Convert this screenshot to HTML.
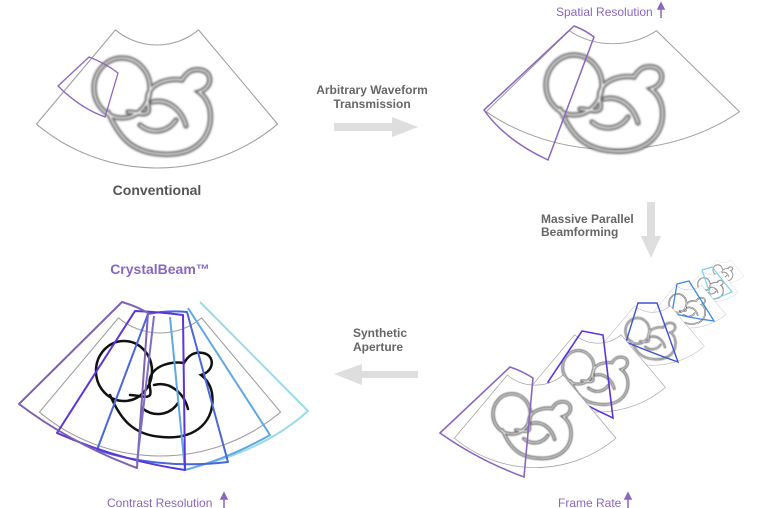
<!DOCTYPE html>
<html><head><meta charset="utf-8"><style>
html,body{margin:0;padding:0;background:#fff;}
svg{display:block;}
text{font-family:"Liberation Sans",sans-serif;}
</style></head><body>
<svg width="768" height="508" viewBox="0 0 768 508" xmlns="http://www.w3.org/2000/svg">
<defs>
<filter id="bl" x="-20%" y="-20%" width="140%" height="140%"><feGaussianBlur stdDeviation="1.1"/></filter>
<path id="fan" d="M115.5,29.9 A64.6,64.6 0 0 0 198.5,29.9 L277.6,124.1 A187.6,187.6 0 0 1 36.4,124.1 Z" fill="#fff" stroke="#a0a0a0" stroke-width="1.1" stroke-linejoin="round"/>
<g id="fet" fill="none" stroke-linecap="round">
<ellipse cx="122" cy="88" rx="28" ry="30"/>
<path d="M108,112 C118,135 130,152 160,154 C195,157 214,137 210,110 C208,100 203,95 199,92 C213,88 213,72 201,70 C190,68 185,75 182,80 C170,78 152,82 148,95 C146,103 150,108 148,112 C145,116 135,112 128,112"/>
<path d="M152,102 C168,98 182,110 186,126"/>
<path d="M140,125 C152,135 168,132 176,120"/>
</g>
<g id="bfet"><use href="#fet" stroke="#555" stroke-width="5" filter="url(#bl)"/><use href="#fet" stroke="#fff" stroke-width="1.8" filter="url(#bl)"/></g>
</defs>

<!-- Conventional -->
<use href="#fan"/>
<use href="#bfet"/>
<path d="M58,86 L89,57 Q105,63 118,73 L105,117 Q80,108 58,86 Z" fill="none" stroke="#8a66c0" stroke-width="1.3"/>
<text x="157" y="195" font-size="14" font-weight="bold" fill="#555" text-anchor="middle">Conventional</text>

<!-- Arrow 1 -->
<path d="M334,123 H392 V117 L418,127 L392,137 V131 H334 Z" fill="#dedede"/>
<text x="372" y="94" font-size="12" font-weight="bold" fill="#666" text-anchor="middle">Arbitrary Waveform</text>
<text x="372" y="108" font-size="12" font-weight="bold" fill="#666" text-anchor="middle">Transmission</text>

<!-- Top right -->
<g transform="translate(448,5) scale(1.05,0.86)"><use href="#fan"/></g>
<g transform="translate(452,-3)"><use href="#bfet"/></g>
<path d="M574,26 Q585,30 594,37 L548,160 Q505,140 484,110 Z" fill="none" stroke="#8a66c0" stroke-width="1.5"/>
<text x="556" y="16" font-size="12" fill="#8a66c0">Spatial Resolution</text>
<path d="M661,18 V5 M658,9 L661,3 L664,9 Z" stroke="#8a66c0" stroke-width="1.5" fill="#8a66c0"/>

<!-- Arrow 2 -->
<path d="M647,202 H655 V236 H661 L651,258 L641,236 H647 Z" fill="#dedede"/>
<text x="541" y="223" font-size="12" font-weight="bold" fill="#666">Massive Parallel</text>
<text x="541" y="236" font-size="12" font-weight="bold" fill="#666">Beamforming</text>

<!-- Stack frames -->
<g transform="translate(697,255) scale(0.17)"><use href="#fan"/><use href="#bfet"/></g>
<g transform="translate(677,265) scale(0.22)"><use href="#fan"/><use href="#bfet"/></g>
<path d="M702,270 L712,267 L732,292 L712,300 Z" fill="none" stroke="#7fd0e6" stroke-width="1.2"/>
<g transform="translate(640,276) scale(0.31)"><use href="#fan"/><use href="#bfet"/></g>
<path d="M677,284 L689,281 L714,321 Q690,318 672,313 Z" fill="none" stroke="#3f86dc" stroke-width="1.3"/>
<g transform="translate(585,293) scale(0.43)"><use href="#fan"/><use href="#bfet"/></g>
<path d="M638,303 L657,303 L678,362 Q650,352 626,342 Z" fill="none" stroke="#3d52d8" stroke-width="1.4"/>
<g transform="translate(510,318) scale(0.56)"><use href="#fan"/><use href="#bfet"/></g>
<path d="M582,331 L603,335 L613,418 Q578,402 548,382 Z" fill="none" stroke="#5a35d8" stroke-width="1.6"/>
<g transform="translate(430,355) scale(0.67)"><use href="#fan"/><use href="#bfet"/></g>
<path d="M440,433 L510,367 Q522,371 533,378 L524,477 Q478,460 440,433 Z" fill="none" stroke="#8a66c0" stroke-width="1.6"/>
<text x="558" y="507" font-size="12" fill="#8a66c0">Frame Rate</text>
<path d="M628,509 V495 M625,499 L628,493 L631,499 Z" stroke="#8a66c0" stroke-width="1.5" fill="#8a66c0"/>

<!-- Arrow 3 -->
<path d="M418,371 H362 V364 L334,374 L362,385 V378 H418 Z" fill="#dedede"/>
<text x="353" y="337" font-size="12" font-weight="bold" fill="#666">Synthetic</text>
<text x="353" y="351" font-size="12" font-weight="bold" fill="#666">Aperture</text>

<!-- CrystalBeam -->
<text x="160" y="274" font-size="14" font-weight="bold" fill="#8a66c0" text-anchor="middle">CrystalBeam™</text>
<g transform="translate(3,288)"><use href="#fan" stroke="#aaa"/></g>
<g transform="translate(2,283)"><use href="#fet" stroke="#111" stroke-width="2.5"/></g>
<g fill="none" stroke-width="2" stroke-linejoin="round">
<path d="M200,302 L308,411 Q270,445 213,462" stroke="#9adbea"/>
<path d="M188,308 L270,435 Q230,458 185,470 L170,317" stroke="#60a8e4"/>
<path d="M148,314 Q168,310 187,312 L228,462 Q160,470 97,450 Z" stroke="#4a66dc"/>
<path d="M135,311 Q160,312 183,315 L185,470 Q118,460 57,433 Z" stroke="#5a35d8"/>
<path d="M122,302 Q136,306 148,313 L137,468 Q72,444 19,404 Z" stroke="#8060b0"/>
<path d="M154,316 L137,463" stroke="#7a70c8"/>
</g>
<text x="107" y="507" font-size="12" fill="#8a66c0">Contrast Resolution</text>
<path d="M224,509 V495 M221,499 L224,493 L227,499 Z" stroke="#8a66c0" stroke-width="1.5" fill="#8a66c0"/>
</svg>
</body></html>
